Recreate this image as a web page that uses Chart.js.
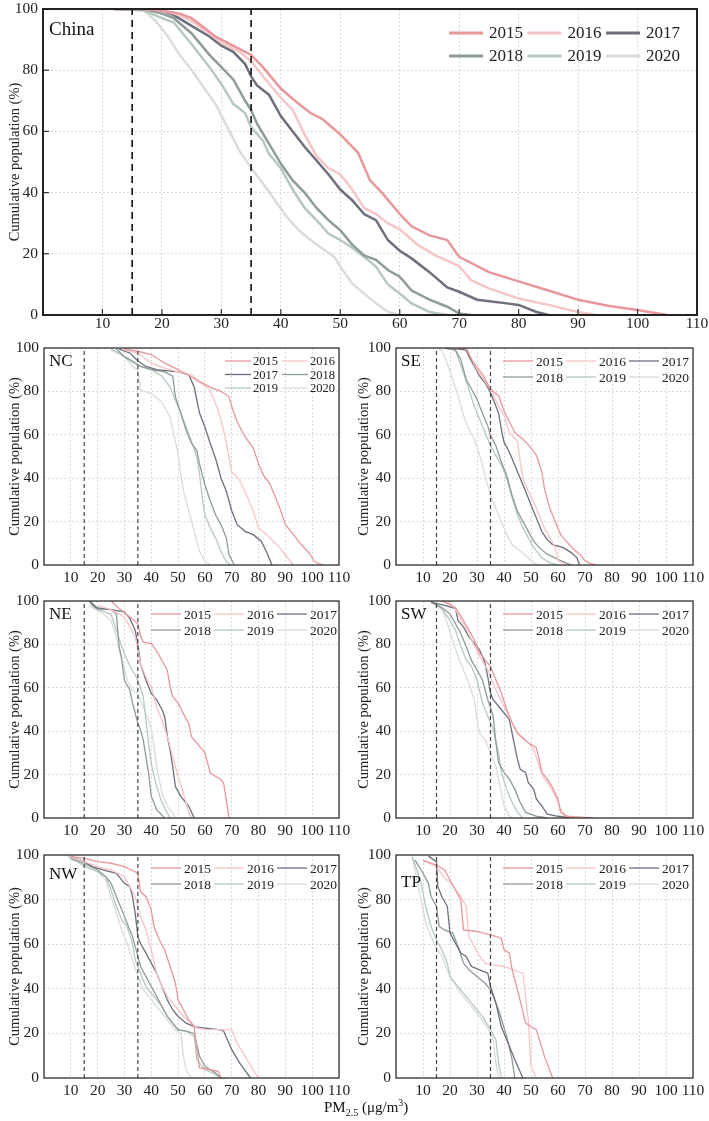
<!DOCTYPE html>
<html>
<head>
<meta charset="utf-8">
<script src="https://cdn.jsdelivr.net/npm/chart.js@4.4.0/dist/chart.umd.min.js"></script>
<style>
  body { margin:0; width:709px; height:1121px; background:#fff; position:relative; overflow:hidden; }
  canvas { position:absolute; }
  #xt { position:absolute; left:324px; top:1097px; font:15px 'Liberation Serif', serif; color:#111; white-space:nowrap; }
  #xt sub { font-size:10px; }
  #xt sup { font-size:10px; }
</style>
</head>
<body>
<canvas id="china" width="709" height="345" style="left:0;top:0"></canvas>
<canvas id="nc" width="355" height="259" style="left:0;top:336px"></canvas>
<canvas id="se" width="360" height="259" style="left:349px;top:336px"></canvas>
<canvas id="ne" width="355" height="259" style="left:0;top:589px"></canvas>
<canvas id="sw" width="360" height="259" style="left:349px;top:589px"></canvas>
<canvas id="nw" width="355" height="265" style="left:0;top:843px"></canvas>
<canvas id="tp" width="360" height="265" style="left:349px;top:843px"></canvas>
<div id="xt">PM<sub>2.5</sub> (μg/m<sup>3</sup>)</div>
<script>
// years / legend
const years = ['2015','2016','2017','2018','2019','2020']
const yearColors = ['#e8979c','#f6c6c7','#6d6f7d','#8e9c97','#b7c8be','#d9dcd9']
const guideLines = [15, 35]   // WHO / national PM2.5 limits
const xMax = 110
const yMax = 100

// cumulative population curves, [PM2.5, %]
// China
const china2015 = [[12,100],[17,100],[20,99.5],[23,98.5],[25,97],[27,94],[29,91],[31,89],[33,87],[35,85],[37,81],[40,74],[43,69],[45,66],[47,64],[50,59],[52,55],[53,53],[55,44],[57,40],[60,33],[62,29],[65,26],[68,24.5],[70,19],[75,14],[80,11],[85,8],[90,5],[95,3],[100,1.6],[105,0]]
const china2016 = [[12,100],[17,100],[20,99.5],[23,98],[25,96],[28,92],[30,89],[33,86],[35,83],[37,78],[40,71],[42,67],[44,59],[46,52],[48,48],[50,46],[52,41],[54,35],[56,33],[58,30],[60,28],[63,23],[66,19.5],[70,16],[72,11.4],[75,8.7],[80,5.4],[85,3.3],[90,1],[93,0]]
const china2017 = [[12,100],[16,100],[20,99.5],[22,98],[25,94.5],[28,91],[30,88],[32,86],[34,82],[35,78],[36,75],[38,72],[40,65],[42,60],[44,55],[46,50.5],[48,46],[50,41],[52,37.5],[54,33],[56,31],[58,24.5],[60,21],[62,18.5],[65,14],[68,9],[70,7.6],[73,5],[78,3.8],[80,3.3],[83,1],[85,0]]
const china2018 = [[12,100],[17,100],[20,98.5],[22,97],[25,92],[28,85],[30,81],[32,77],[34,70],[35,67],[36,62.5],[38,56],[40,49.5],[42,44],[44,40],[46,35],[48,31],[50,27.7],[52,23],[54,19.5],[56,18],[58,14.7],[60,12.5],[62,8],[65,5],[68,2.7],[70,0.5],[72,0]]
const china2019 = [[12,100],[17,99.5],[20,97],[22,95.6],[25,88.5],[28,81],[30,75.5],[32,69],[34,66],[35,61.4],[37,57],[38,52.7],[40,48],[42,41],[44,35],[46,31],[48,26.6],[50,24.5],[52,22],[54,19],[56,15.8],[58,10],[60,7],[62,3.8],[65,1],[68,0]]
const china2020 = [[12,100],[15,100],[17,99.5],[19,96],[21,91],[23,85],[25,80],[27,74.5],[29,69],[31,61.4],[33,53.8],[35,48],[37,43],[39,37.5],[41,32],[43,27.7],[45,24.5],[47,21.7],[49,19],[50,15.8],[52,10.3],[54,7],[56,3.8],[58,1],[60,0]]

// NC
const nc2015 = [[30,99.5],[35,98.5],[40,97],[45,93],[50,90],[53,88],[58,84.5],[62,82],[66,80],[69,77.5],[70,73],[72,66],[75,59],[78,54],[80,46.5],[82,41],[84,38],[86,32],[88,26],[90,18.6],[93,14],[96,9.3],[99,5.4],[101,1.5],[104,0]]
const nc2016 = [[30,99],[35,97.7],[40,93],[45,90.7],[50,89],[55,87.6],[58,84.5],[62,80.6],[65,71],[67,62],[69,50],[70,43],[73,39],[76,31],[78,25],[80,17],[83,14],[85,11.6],[88,7.8],[91,3],[93,0]]
const nc2017 = [[28,99.5],[32,97.7],[35,94],[38,91.5],[42,90],[50,89],[54,87.6],[56,82],[58,70],[60,63.6],[62,56],[64,49],[66,40],[68,34],[70,25],[72,18.6],[75,15.5],[78,14],[81,11],[83,6],[85,0]]
const nc2018 = [[27,99.5],[30,96],[33,94],[36,91.5],[40,90],[45,89],[48,87],[49,77.5],[51,70],[53,62],[55,56],[57,52.7],[58,46.5],[60,37],[62,29.5],[64,23],[66,18.6],[68,12.4],[69,4.7],[71,0]]
const nc2019 = [[25,99.5],[28,97.7],[32,94],[36,91.5],[40,90],[44,87],[47,82],[49,76],[51,70],[53,63.6],[55,57],[57,49.6],[58,42],[59,31],[60,23],[62,17],[64,12.4],[66,6.2],[68,1.5],[70,0]]
const nc2020 = [[25,99],[30,96],[33,91.5],[35,90],[36,80.6],[40,79],[44,75],[47,68],[49,57],[50,51],[51,42],[52,34],[54,25],[56,15.5],[58,6.2],[60,1.5],[62,0]]

// SE
const se2015 = [[20,100],[26,100],[28,94.7],[30,91],[32,88],[35,81],[38,78],[40,71],[42,66],[44,61],[47,58],[50,54],[52,50.5],[54,43],[55,35],[57,26],[59,20],[61,14],[63,11],[66,7],[68,5],[70,2],[72,0.6],[74,0]]
const se2016 = [[20,100],[26,100],[30,90],[35,81],[38,73],[40,69],[42,61],[45,57],[46,47.5],[47,40],[49,34],[51,29],[53,23],[55,17],[57,12.5],[59,8],[60,2],[63,0]]
const se2017 = [[20,100],[26,99],[27,96],[29,91.6],[31,87],[33,84],[35,79.5],[36,76.4],[38,70],[39,62.7],[40,56.6],[42,52],[44,46],[46,40],[48,34],[50,27.7],[52,21.6],[54,15.5],[56,11.7],[58,9.4],[62,8],[65,5.6],[67,3.3],[68,0]]
const se2018 = [[18,100],[22,99],[24,94.7],[26,85.5],[28,81],[30,76.4],[32,70],[34,64],[35,59.6],[37,55],[39,47.5],[41,41.4],[43,32],[45,24.7],[47,20],[49,15.5],[51,11],[53,8],[56,5],[60,2.6],[63,1],[65,0]]
const se2019 = [[18,100],[22,99],[25,88.6],[27,81],[29,73],[31,67],[33,61],[35,55],[37,50.5],[39,46],[41,40],[43,31],[45,23],[47,17],[49,12.5],[51,8],[54,3.3],[57,1],[60,0]]
const se2020 = [[15,100],[17,99],[19,93],[21,85.5],[23,78],[25,69],[27,62.7],[29,58],[31,50.5],[33,41.4],[35,32],[37,26],[39,20],[41,14],[43,9.4],[46,6.4],[49,3.3],[51,1],[53,0]]

// NE
const ne2015 = [[25,100],[28,96.5],[32,92.6],[35,89.6],[36,84],[37,81],[40,80.4],[42,77],[44,72.6],[46,68],[47,60.5],[48,56],[50,53],[52,48],[54,43.6],[55,37.5],[58,33],[60,30],[62,20.7],[66,17.6],[67,16],[69,0]]
const ne2016 = [[20,98],[25,96],[30,92.6],[34,83.5],[36,71],[38,65],[40,60.5],[42,51.3],[44,45],[46,37.5],[48,28.3],[50,19],[52,11.5],[54,2.3],[55,0]]
const ne2017 = [[17,100],[20,96.5],[25,96],[30,95],[32,92],[34,86.5],[35,80],[36,71],[38,63.5],[40,57.4],[42,54.4],[44,50],[45,46.7],[46,37.5],[47,31.4],[48,23.7],[49,14.5],[51,10],[54,5.4],[56,0]]
const ne2018 = [[17,100],[19,97],[25,96],[27,94],[28,79],[29,72.7],[30,63.5],[32,59],[33,53],[35,43.6],[36,40.6],[37,36],[38,28.3],[39,20.7],[40,10],[42,3.8],[45,0]]
const ne2019 = [[17,99],[20,96],[25,94],[27,86.5],[29,79],[31,72.7],[33,68],[35,63.5],[37,56],[38,45],[39,34.5],[40,25],[42,14.5],[44,7],[46,2.3],[47,0]]
const ne2020 = [[17,98],[22,94],[25,91],[27,83.5],[29,74],[31,63.5],[33,59],[35,57.4],[37,51.3],[39,45],[40,40.6],[41,33],[42,23.7],[44,11.5],[46,5.4],[48,2.3],[49,0]]

// SW
const sw2015 = [[17,100],[22,97],[25,91],[27,86.6],[29,82],[31,76],[33,73],[35,69.8],[37,63.7],[39,57.6],[41,50],[43,43.8],[45,39],[47,37],[49,34.7],[52,32.4],[53,27],[54,21],[56,17.9],[58,14],[60,8.7],[61,2.6],[63,0.8],[70,0.3],[73,0]]
const sw2016 = [[17,100],[20,99],[22,96],[25,89.6],[28,82],[31,74.4],[34,68.2],[37,59],[40,51.5],[43,43.8],[46,37.7],[49,34.7],[51,31.6],[53,24],[55,17.9],[57,14.8],[59,10.2],[61,4],[63,1],[66,0]]
const sw2017 = [[13,99.5],[18,98],[22,96.5],[23,91],[25,88],[27,83.5],[29,80.5],[31,77.4],[33,71.3],[34,65],[35,57.6],[36,54.5],[38,51.5],[40,48.4],[42,45.3],[43,39],[44,33],[45,27],[46,22.4],[48,21],[49,16.3],[51,13.3],[52,8.7],[54,5.6],[56,1.8],[60,0.8],[65,0]]
const sw2018 = [[13,99.5],[17,97],[20,94],[22,89.6],[24,85],[26,79],[28,72.5],[30,68.2],[32,63.7],[34,54.5],[36,46.9],[37,34.7],[38,25.5],[40,21],[42,17.9],[44,13.3],[46,7.2],[48,2.6],[52,0.8],[56,0]]
const sw2019 = [[13,99.5],[17,96.5],[20,91],[22,86.6],[24,79],[26,72.8],[28,69.8],[30,63.7],[32,53],[34,46.9],[36,40.8],[38,30],[39,21],[41,13.3],[43,7.2],[45,2.6],[47,0]]
const sw2020 = [[13,99.5],[17,96.5],[19,89.6],[21,82],[23,74.4],[25,68.2],[27,62],[29,54.5],[30,45.3],[31,39],[33,36.2],[35,30],[37,24],[38,17.9],[39,11.8],[40,5.6],[42,1],[43,0]]

// NW
const nw2015 = [[10,99.3],[15,98.5],[20,97],[25,96.3],[30,94.8],[35,91.8],[36,83.6],[38,81.3],[40,75.4],[41,68],[43,62],[45,57.5],[47,50],[49,42.5],[50,35],[52,30.6],[54,26],[56,23],[57,12.7],[58,4.5],[62,3.7],[65,3],[66,0]]
const nw2016 = [[10,99.3],[20,94.8],[25,93.3],[30,90.3],[34,81.3],[36,72.4],[38,66.4],[40,57.5],[42,47],[44,41],[46,36.6],[48,33.6],[50,30.6],[52,27.6],[55,24.6],[57,22.5],[60,21.8],[70,21.6],[72,15.7],[75,9.7],[78,3.7],[80,0]]
const nw2017 = [[10,99.5],[15,97],[18,94.8],[22,93.3],[27,91.8],[30,87.3],[32,85.8],[33,81.3],[34,73.9],[35,63.4],[36,60.4],[38,56],[40,51.5],[42,47],[44,41],[46,35],[48,30.6],[50,27.6],[53,24.6],[56,23],[60,22.4],[66,21.6],[67,21],[70,12.7],[73,6.7],[77,0]]
const nw2018 = [[10,98.5],[15,96.3],[20,93.3],[23,90.3],[25,87.3],[27,81.3],[29,75.4],[31,69.4],[33,63.4],[34,59],[36,50],[38,45.5],[40,41],[42,36.6],[44,32],[46,27.6],[48,24.6],[50,21.6],[53,21],[56,20],[58,9.7],[60,5.2],[62,3.7],[64,2.2],[66,0]]
const nw2019 = [[9,99.3],[15,95.5],[20,92.5],[23,90.3],[25,84.3],[27,76.9],[29,70.9],[31,67.9],[33,60.4],[34,53],[36,47],[38,41],[40,38],[42,35],[44,32],[46,27.6],[48,24.6],[50,21.6],[53,21],[56,18.7],[57,8.2],[60,3.7],[63,2.2],[66,0]]
const nw2020 = [[9,99.3],[15,94.8],[20,92.5],[23,88.8],[25,81.3],[27,73.9],[29,66.4],[31,60.4],[33,53],[35,45.5],[37,39.6],[39,36.6],[41,33.6],[43,30.6],[46,26],[49,21.6],[51,20],[52,9.7],[53,3.7],[55,0]]

// TP
const tp2015 = [[10,97.5],[15,95.5],[18,93.3],[20,88.8],[22,84.3],[24,79.9],[25,66.4],[30,65.7],[35,64.2],[39,62.7],[40,57.5],[42,56],[43,48.5],[45,39.6],[48,24.6],[50,23],[52,21.6],[55,9.7],[58,0]]
const tp2016 = [[10,97.8],[15,94.8],[18,89.6],[20,88],[24,81.3],[26,76.9],[27,63.4],[29,59],[31,54.5],[33,51.5],[36,50.7],[40,50],[45,47.8],[47,47],[48,36.6],[49,26],[50,5.2],[52,0]]
const tp2017 = [[12,99.5],[15,97],[15.5,85.8],[17,81.3],[19,76.9],[20,65],[22,60.4],[24,56],[26,54.5],[28,50],[31,48.5],[34,47],[35,41],[37,33.6],[39,23],[42,14.2],[44,8.2],[47,0]]
const tp2018 = [[7,97.8],[10,91.8],[12,87.3],[13,81.3],[15,76.9],[16,67.9],[18,66.4],[21,65],[23,59],[25,51.5],[27,48.5],[30,45.5],[33,42.5],[35,39.6],[38,30.6],[41,18.7],[43,8.2],[44,0]]
const tp2019 = [[6,99.3],[9,88.8],[11,76.9],[13,67.9],[15,61.9],[17,57.5],[19,51.5],[20,45.5],[23,41],[26,36.6],[29,32],[32,27.6],[35,21.6],[37,17.2],[38,6.7],[39,0]]
const tp2020 = [[6,99.3],[9,81.3],[11,69.4],[14,60.4],[17,54.5],[20,45.5],[24,38],[28,32],[32,26],[35,20],[36,17.2],[37,6.7],[38,0]]

Chart.defaults.font.family = "'Liberation Serif', 'Times New Roman', serif"
Chart.defaults.color = '#222'

// frame, inner ticks, panel name and legend drawn inside the plot box
const deco = {
  id: 'deco',
  afterDatasetsDraw(chart, args, o) {
    const ctx = chart.ctx, a = chart.chartArea
    ctx.save()
    ctx.setLineDash([])
    if (o.inTick) {
      ctx.strokeStyle = '#333'; ctx.lineWidth = 1.2
      chart.scales.x.ticks.forEach(t => {
        if (t.value <= 0 || t.value >= xMax) return
        const px = chart.scales.x.getPixelForValue(t.value)
        ctx.beginPath(); ctx.moveTo(px, a.bottom); ctx.lineTo(px, a.bottom - o.inTick); ctx.stroke()
      })
      chart.scales.y.ticks.forEach(t => {
        if (t.value <= 0 || t.value >= yMax) return
        const py = chart.scales.y.getPixelForValue(t.value)
        ctx.beginPath(); ctx.moveTo(a.left, py); ctx.lineTo(a.left + o.inTick, py); ctx.stroke()
      })
    }
    ctx.strokeStyle = '#222'; ctx.lineWidth = o.frameW
    ctx.strokeRect(a.left, a.top, a.right - a.left, a.bottom - a.top)

    ctx.fillStyle = '#111'; ctx.textBaseline = 'middle'; ctx.textAlign = 'left'
    ctx.font = o.nameSize + "px 'Liberation Serif'"
    ctx.fillText(o.name, a.left + o.nameX, a.top + o.nameY)

    ctx.font = o.legSize + "px 'Liberation Serif'"
    for (let i = 0; i < years.length; i++) {
      const ds = chart.data.datasets[i]
      const col = i % o.cols, row = Math.floor(i / o.cols)
      const x = a.left + o.legX + col * o.colW, y = a.top + o.legY + row * o.rowH
      ctx.strokeStyle = ds.borderColor; ctx.lineWidth = o.legLW
      ctx.beginPath(); ctx.moveTo(x, y); ctx.lineTo(x + o.sample, y); ctx.stroke()
      ctx.fillStyle = '#222'
      ctx.fillText(ds.label, x + o.sample + o.gap, y + 1)
    }
    ctx.restore()
  }
}

function makePanel(id, series, g) {
  let datasets = series.map((s, i) => ({
    label: years[i],
    data: s.map(p => ({ x: p[0], y: p[1] })),
    borderColor: yearColors[i],
    borderWidth: g.lw,
    pointRadius: 0,
    showLine: true,
    order: 2
  }))
  guideLines.forEach(v => {
    datasets.push({
      label: '',
      data: [{ x: v, y: 0 }, { x: v, y: yMax }],
      borderColor: g.dashColor,
      borderWidth: g.dashW,
      borderDash: g.dash,
      pointRadius: 0,
      showLine: true,
      order: 1
    })
  })
  new Chart(document.getElementById(id), {
    type: 'scatter',
    data: { datasets: datasets },
    plugins: [deco],
    options: {
      responsive: false,
      animation: false,
      events: [],
      layout: { padding: g.pad, autoPadding: false },
      plugins: {
        legend: { display: false },
        tooltip: { enabled: false },
        deco: g.deco
      },
      scales: {
        x: {
          type: 'linear', min: 0, max: xMax,
          afterFit: s => { s.height = g.xh; s.paddingLeft = 0; s.paddingRight = 0 },
          ticks: { stepSize: 10, autoSkip: false, maxRotation: 0, padding: g.xpad, font: { size: g.tick },
                   callback: v => v === 0 ? '' : v },
          grid: { color: '#cfcfcf', lineWidth: 0.8, drawTicks: false },
          border: { display: false, dash: [2, 2] }
        },
        y: {
          min: 0, max: yMax,
          afterFit: s => { s.width = g.yw; s.paddingTop = 0; s.paddingBottom = 0 },
          ticks: { stepSize: 20, padding: 5, font: { size: g.tick } },
          title: { display: true, text: 'Cumulative population (%)', font: { size: g.title }, padding: { top: 6, bottom: 0 } },
          grid: { color: '#d4d4d4', lineWidth: 0.8, drawTicks: false },
          border: { display: false, dash: [2, 2] }
        }
      }
    }
  })
}

const smallDeco = (name, nameY) => ({ name: name, nameX: 5, nameY: nameY, nameSize: 17, frameW: 1.2, inTick: 0,
  legSize: 13.5, legX: 107, legY: 13, cols: 3, colW: 63, rowH: 16, sample: 30, gap: 3, legLW: 1.3 })
const leftG = { lw: 1.3, dashColor: '#444', dashW: 1.2, dash: [4, 3], pad: { left: 0, right: 16, top: 12, bottom: 2 }, xh: 28, yw: 44, xpad: 4, tick: 15.5, title: 14.5 }
const rightG = Object.assign({}, leftG, { yw: 47 })

makePanel('china', [china2015, china2016, china2017, china2018, china2019, china2020], {
  lw: 2.5, dashColor: '#111', dashW: 1.6, dash: [7, 5], pad: { left: 0, right: 12, top: 9, bottom: 2 }, xh: 28, yw: 43, xpad: 0, tick: 15.5, title: 14.5,
  deco: { name: 'China', nameX: 6, nameY: 21, nameSize: 19, frameW: 2, inTick: 6,
          legSize: 17, legX: 406, legY: 24, cols: 3, colW: 78.5, rowH: 23, sample: 34, gap: 6, legLW: 3 }
})
makePanel('nc', [nc2015, nc2016, nc2017, nc2018, nc2019, nc2020], Object.assign({}, leftG, {
  deco: { name: 'NC', nameX: 5, nameY: 14, nameSize: 17, frameW: 1.2, inTick: 0,
          legSize: 12.5, legX: 181, legY: 13, cols: 2, colW: 57, rowH: 13.5, sample: 26, gap: 2, legLW: 1.3 }
}))
makePanel('se', [se2015, se2016, se2017, se2018, se2019, se2020], Object.assign({}, rightG, { deco: smallDeco('SE', 14) }))
makePanel('ne', [ne2015, ne2016, ne2017, ne2018, ne2019, ne2020], Object.assign({}, leftG, { deco: smallDeco('NE', 14) }))
makePanel('sw', [sw2015, sw2016, sw2017, sw2018, sw2019, sw2020], Object.assign({}, rightG, { deco: smallDeco('SW', 14) }))
makePanel('nw', [nw2015, nw2016, nw2017, nw2018, nw2019, nw2020], Object.assign({}, leftG, { deco: smallDeco('NW', 20) }))
makePanel('tp', [tp2015, tp2016, tp2017, tp2018, tp2019, tp2020], Object.assign({}, rightG, { deco: smallDeco('TP', 28) }))
</script>
</body>
</html>
